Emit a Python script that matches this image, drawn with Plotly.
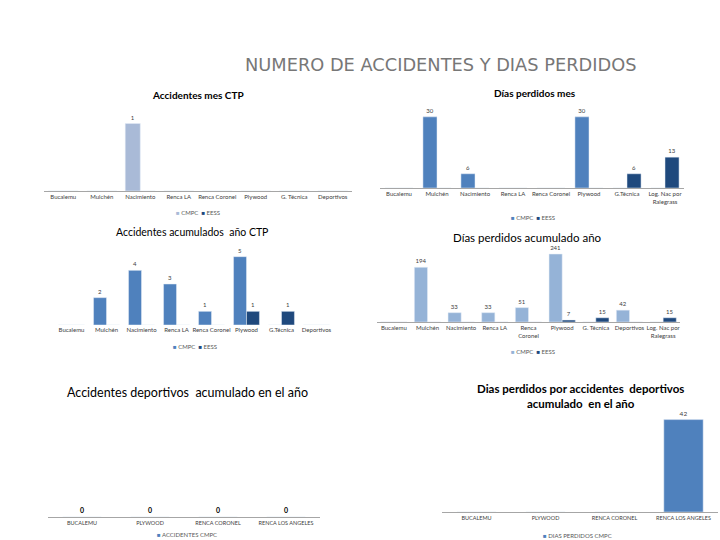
import plotly.graph_objects as go

W, H = 720, 540

# ---------------- data ----------------
cats_mes_ctp = ["Bucalemu", "Mulchén", "Nacimiento", "Renca LA", "Renca Coronel", "Plywood", "G. Técnica", "Deportivos"]
acc_mes_cmpc = [0, 0, 1, 0, 0, 0, 0, 0]
acc_mes_eess = [0, 0, 0, 0, 0, 0, 0, 0]

cats_dias_mes = ["Bucalemu", "Mulchén", "Nacimiento", "Renca LA", "Renca Coronel", "Plywood", "G.Técnica", "Log. Nac por<br>Ralegrass"]
dias_mes_cmpc = [0, 30, 6, 0, 0, 30, 0, 0]
dias_mes_eess = [0, 0, 0, 0, 0, 0, 6, 13]

cats_acc_ano = ["Bucalemu", "Mulchén", "Nacimiento", "Renca LA", "Renca Coronel", "Plywood", "G.Técnica", "Deportivos"]
acc_ano_cmpc = [0, 2, 4, 3, 1, 5, 0, 0]
acc_ano_eess = [0, 0, 0, 0, 0, 1, 1, 0]

cats_dias_ano = ["Bucalemu", "Mulchén", "Nacimiento", "Renca LA", "Renca<br>Coronel", "Plywood", "G. Técnica", "Deportivos", "Log. Nac por<br>Ralegrass"]
dias_ano_cmpc = [0, 194, 33, 33, 51, 241, 0, 42, 0]
dias_ano_eess = [0, 0, 0, 0, 0, 7, 15, 0, 15]

cats_dep = ["BUCALEMU", "PLYWOOD", "RENCA CORONEL", "RENCA LOS ANGELES"]
acc_dep_cmpc = [0, 0, 0, 0]
dias_dep_cmpc = [0, 0, 0, 42]

# ---------------- style ----------------
FONT = "Lato"
TXT = "#404040"
C_LIGHT1 = "#A9BAD7"
C_MID = "#4F81BD"
C_DARK = "#1F497D"
C_LIGHT2 = "#95B3D7"


def px_x(p):
    return p / W


def px_y(p):
    return 1 - p / H


fig = go.Figure()


def lbl(vals, show_zero=False):
    return [str(v) if (v != 0 or show_zero) else "" for v in vals]


def add_bar(i, cats, vals, name, color, width, offset, show_zero=False, tfont=None):
    fig.add_trace(go.Bar(
        x=cats, y=vals, name=name, marker_color=color,
        width=width, offset=offset,
        text=lbl(vals, show_zero), textposition="outside",
        textfont=tfont or dict(size=6, color=TXT, family=FONT),
        cliponaxis=False,
        xaxis="x" if i == 1 else f"x{i}", yaxis="y" if i == 1 else f"y{i}",
        showlegend=False,
    ))


add_bar(1, cats_mes_ctp, acc_mes_cmpc, "CMPC", C_LIGHT1, 0.39, -0.39)
add_bar(1, cats_mes_ctp, acc_mes_eess, "EESS", C_DARK, 0.39, 0.0)
add_bar(2, cats_dias_mes, dias_mes_cmpc, "CMPC", C_MID, 0.37, -0.37)
add_bar(2, cats_dias_mes, dias_mes_eess, "EESS", C_DARK, 0.37, 0.0)
add_bar(3, cats_acc_ano, acc_ano_cmpc, "CMPC", C_MID, 0.37, -0.37)
add_bar(3, cats_acc_ano, acc_ano_eess, "EESS", C_DARK, 0.37, 0.0)
add_bar(4, cats_dias_ano, dias_ano_cmpc, "CMPC", C_LIGHT2, 0.39, -0.39)
add_bar(4, cats_dias_ano, dias_ano_eess, "EESS", C_DARK, 0.39, 0.0)
add_bar(5, cats_dep, acc_dep_cmpc, "ACCIDENTES CMPC", C_MID, 0.57, -0.285, show_zero=True,
        tfont=dict(size=7, color="#000000", family=FONT, weight="bold"))
add_bar(6, cats_dep, dias_dep_cmpc, "DIAS PERDIDOS CMPC", C_MID, 0.57, -0.285,
        tfont=dict(size=6.5, color=TXT, family=FONT))

# axis geometry (pixels): x0, x1, y_bottom, y_top, ymax, line
geo = {
    1: (44, 352, 191, 110, 1.2, True),
    2: (380, 684, 188, 105, 35, True),
    3: (54, 334, 325, 243, 6, False),
    4: (377, 680, 322, 237.4, 300, True),
    5: (48, 320, 517, 420, 10, True),
    6: (442, 718, 512, 413, 45, True),
}

layout = dict(
    width=W, height=H, margin=dict(l=0, r=0, t=0, b=0, autoexpand=False),
    paper_bgcolor="white", plot_bgcolor="rgba(0,0,0,0)",
    barmode="overlay", font=dict(family=FONT, color=TXT, size=6),
    showlegend=False,
)
for i, (x0, x1, yb, yt, ymax, line) in geo.items():
    sfx = "" if i == 1 else str(i)
    layout[f"xaxis{sfx}"] = dict(
        domain=[px_x(x0), px_x(x1)], anchor=f"y{sfx}", type="category",
        showline=line, linecolor="#A6A6A6", linewidth=1, showgrid=False,
        zeroline=False, ticks="", tickfont=dict(size=6 if i <= 4 else 5.5, color=TXT, family=FONT),
        tickangle=0, fixedrange=True, automargin=False,
    )
    layout[f"yaxis{sfx}"] = dict(
        domain=[px_y(yb), px_y(yt)], anchor=f"x{sfx}", range=[0, ymax],
        visible=False, showgrid=False, zeroline=False, fixedrange=True,
    )

fig.update_layout(**layout)


# legends as compact text rows
def sq(color):
    return f"<span style='color:{color}'>■</span>"


legends = [
    (f"{sq(C_LIGHT1)} CMPC  {sq(C_DARK)} EESS", 198, 212),
    (f"{sq(C_MID)} CMPC  {sq(C_DARK)} EESS", 533, 217),
    (f"{sq(C_MID)} CMPC  {sq(C_DARK)} EESS", 195, 346),
    (f"{sq(C_LIGHT2)} CMPC  {sq(C_DARK)} EESS", 533, 351),
    (f"{sq(C_MID)} ACCIDENTES CMPC", 187, 534),
    (f"{sq(C_MID)} DIAS PERDIDOS CMPC", 577, 535),
]
for text, lx, ly in legends:
    fig.add_annotation(
        text=text, x=px_x(lx), y=px_y(ly), xref="paper", yref="paper",
        xanchor="center", yanchor="middle", showarrow=False,
        font=dict(size=6, color="#595959", family=FONT),
    )

titles = [
    ("NUMERO DE ACCIDENTES Y DIAS PERDIDOS", 440, 65, 17.8, "#777777", "DejaVu Sans", False),
    ("Accidentes mes CTP", 198, 95, 10, "#000000", FONT, True),
    ("Días perdidos mes", 535, 93, 10, "#000000", FONT, True),
    ("Accidentes acumulados  año CTP", 192, 232, 10.5, "#000000", FONT, False),
    ("Días perdidos acumulado año", 527, 237, 11.5, "#000000", FONT, False),
    ("Accidentes deportivos  acumulado en el año", 187, 392, 12.5, "#000000", FONT, False),
    ("Dias perdidos por accidentes  deportivos<br>acumulado  en el año", 580, 396, 11.5, "#000000", FONT, True),
]
for text, tx, ty, size, color, fam, bold in titles:
    fig.add_annotation(
        text=f"<b>{text}</b>" if bold else text,
        x=px_x(tx), y=px_y(ty), xref="paper", yref="paper",
        xanchor="center", yanchor="middle", showarrow=False,
        font=dict(size=size, color=color, family=fam),
    )

fig.write_html("out.html")
